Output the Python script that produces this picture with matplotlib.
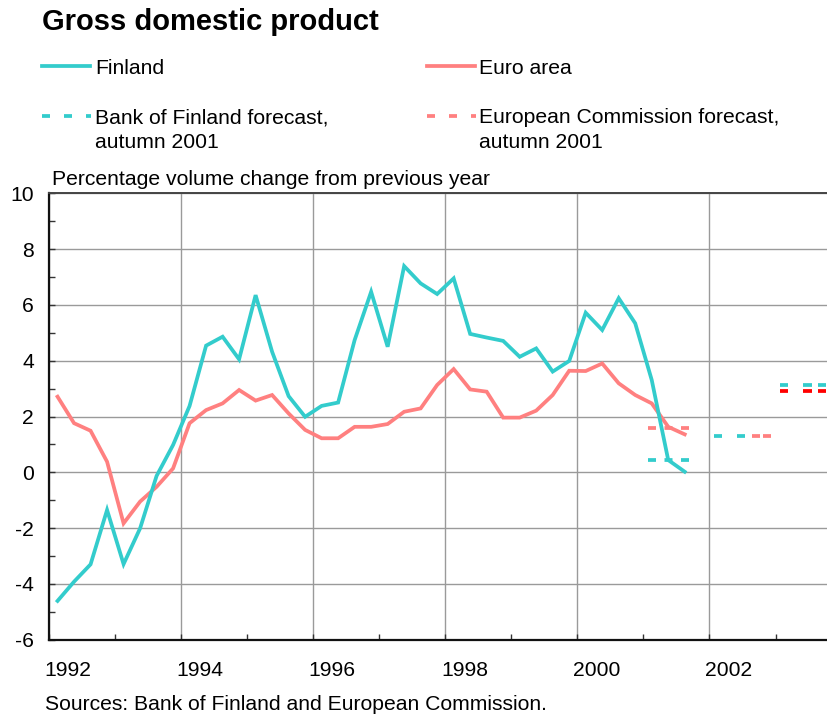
import matplotlib
matplotlib.use("Agg")
import matplotlib.pyplot as plt
from matplotlib.lines import Line2D
import matplotlib.transforms as mtransforms

plt.rcParams['font.family'] = ['Liberation Sans', 'DejaVu Sans']
plt.rcParams['lines.scale_dashes'] = False
plt.rcParams['axes.unicode_minus'] = False

# ---------------- data ----------------
first_year = 1992
finland = [-4.61, -3.92, -3.30, -1.35,
           -3.29, -2.01, -0.13, 0.98,
           2.38, 4.54, 4.86, 4.05,
           6.35, 4.32, 2.73, 1.99,
           2.38, 2.50, 4.74, 6.47,
           4.50, 7.39, 6.77, 6.39,
           6.95, 4.96, 4.83, 4.71,
           4.14, 4.44, 3.61, 3.99,
           5.72, 5.10, 6.24, 5.34,
           3.31, 0.44, 0.02]
euro_area = [2.71, 1.76, 1.49, 0.38,
             -1.83, -1.05, -0.52, 0.14,
             1.76, 2.23, 2.47, 2.95,
             2.57, 2.77, 2.11, 1.52,
             1.22, 1.22, 1.63, 1.63,
             1.73, 2.17, 2.29, 3.13,
             3.70, 2.97, 2.89, 1.96,
             1.96, 2.21, 2.77, 3.64,
             3.63, 3.90, 3.19, 2.77,
             2.47, 1.63, 1.36]

forecast_years = [2001, 2002, 2003]
bof_forecast = [0.44, 1.30, 3.13]
ec_forecast = [1.60, 1.31, 2.93]
# span of each forecast segment within its year (fraction of year)
bof_span = [(0.07, 0.69), (0.07, 0.54), (0.07, 0.80)]
ec_span = [(0.07, 0.69), (0.64, 0.93), (0.07, 0.80)]

year_ticks = [1992, 1994, 1996, 1998, 2000, 2002]
y_ticks = [-6, -4, -2, 0, 2, 4, 6, 8, 10]

# quarterly positions (middle of quarter)
quarters = [first_year + i // 4 + (i % 4 + 0.5) / 4 for i in range(len(finland))]

CYAN = '#33CCCC'
PINK = '#FF8080'
RED = '#FF0000'
FS = 15.2

W, H = 827, 720
fig = plt.figure(figsize=(W / 100, H / 100), dpi=100)

def fx(x):
    return x / W

def fy(y):
    return 1 - y / H

left, right, top, bottom = 49.3, 827, 193.3, 639.7
ax = fig.add_axes([fx(left), fy(bottom), fx(right - left), (bottom - top) / H])
ax.set_xlim(1992, 2003.78)
ax.set_ylim(-6, 10)

LW = 2.7
ax.plot(quarters, finland, color=CYAN, lw=LW, solid_joinstyle='miter', zorder=4)
ax.plot(quarters, euro_area, color=PINK, lw=LW, solid_joinstyle='miter', zorder=3)

px = 0.72  # points per pixel
dash_bof = [(0, (8 * px, 8.5 * px)), (0, (8 * px, 15 * px)), (0, (8 * px, 15 * px, 9 * px, 6 * px))]
dash_ec = [(0, (8 * px, 8.5 * px)), (0, (8 * px, 3 * px)), (0, (8 * px, 15 * px, 9 * px, 6 * px))]
ec_colors = [PINK, PINK, RED]
for i, yr in enumerate(forecast_years):
    s, e = bof_span[i]
    ax.plot([yr + s, yr + e], [bof_forecast[i]] * 2, color=CYAN, lw=LW,
            linestyle=dash_bof[i], dash_capstyle='butt', zorder=5)
    s, e = ec_span[i]
    ax.plot([yr + s, yr + e], [ec_forecast[i]] * 2, color=ec_colors[i], lw=LW,
            linestyle=dash_ec[i], dash_capstyle='butt', zorder=2)

# axes styling
ax.set_yticks(y_ticks)
ax.set_yticks(list(range(-5, 10, 2)), minor=True)
ax.set_xticks(year_ticks)
ax.set_xticks(list(range(1993, 2004, 2)), minor=True)
ax.set_xticklabels([str(y) for y in year_ticks])
ax.tick_params(axis='both', which='both', direction='in', length=4.3, width=1.0,
               color='#333333', labelsize=FS)
ax.tick_params(axis='y', pad=11)
ax.tick_params(axis='x', pad=15)
ax.grid(True, which='major', color='#9a9a9a', lw=1.0)
ax.set_axisbelow(True)
for sp in ['left', 'bottom']:
    ax.spines[sp].set_linewidth(1.6)
    ax.spines[sp].set_color('#111111')
ax.spines['top'].set_linewidth(1.4)
ax.spines['top'].set_color('#444444')
ax.spines['right'].set_visible(False)

offset = mtransforms.ScaledTranslation(19 / 100, 0, fig.dpi_scale_trans)
for lab in ax.get_xticklabels():
    lab.set_transform(lab.get_transform() + offset)

# ---------------- texts ----------------
fig.text(fx(42), fy(30), 'Gross domestic product', fontsize=21, fontweight='bold',
         va='baseline', ha='left')
fig.text(fx(52), fy(185), 'Percentage volume change from previous year', fontsize=FS,
         va='baseline', ha='left')
fig.text(fx(45), fy(710), 'Sources: Bank of Finland and European Commission.', fontsize=FS,
         va='baseline', ha='left')

# legend
def handle(x0, x1, y, color, ls):
    fig.add_artist(Line2D([fx(x0), fx(x1)], [fy(y), fy(y)], transform=fig.transFigure,
                          color=color, lw=LW, linestyle=ls, dash_capstyle='butt'))

handle(42, 90, 65.5, CYAN, '-')
fig.text(fx(95), fy(74), 'Finland', fontsize=FS, va='baseline', ha='left')
handle(426.7, 475, 65.5, PINK, '-')
fig.text(fx(479), fy(74), 'Euro area', fontsize=FS, va='baseline', ha='left')

leg_dash = (0, (8 * px, 14 * px))
handle(42, 91, 116, CYAN, leg_dash)
fig.text(fx(95), fy(123), 'Bank of Finland forecast,', fontsize=FS, va='baseline', ha='left')
fig.text(fx(95), fy(148), 'autumn 2001', fontsize=FS, va='baseline', ha='left')
handle(426.7, 476, 116, PINK, leg_dash)
fig.text(fx(479), fy(123), 'European Commission forecast,', fontsize=FS, va='baseline', ha='left')
fig.text(fx(479), fy(148), 'autumn 2001', fontsize=FS, va='baseline', ha='left')

fig.savefig('out.png', dpi=100)
